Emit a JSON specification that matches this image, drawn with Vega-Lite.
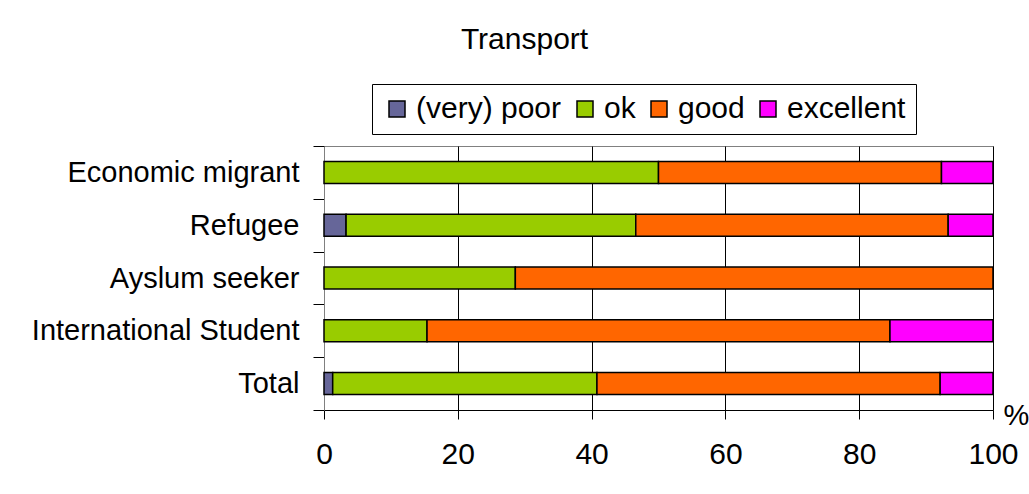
{
  "$schema": "https://vega.github.io/schema/vega-lite/v6.json",
  "autosize": {"type": "none"},
  "width": 669,
  "height": 264,
  "padding": {"left": 324, "top": 146, "right": 36, "bottom": 84},
  "background": "white",
  "title": {
    "text": "Transport",
    "anchor": "middle",
    "frame": "group",
    "dx": -134,
    "fontSize": 30,
    "fontWeight": "normal",
    "font": "Liberation Sans",
    "color": "#000000",
    "offset": 29
  },
  "data": {
    "values": [
      {"group": "Economic migrant", "rating": "ok", "rank": 2, "pct": 50.0},
      {"group": "Economic migrant", "rating": "good", "rank": 3, "pct": 42.3},
      {"group": "Economic migrant", "rating": "excellent", "rank": 4, "pct": 7.7},
      {"group": "Refugee", "rating": "(very) poor", "rank": 1, "pct": 3.3},
      {"group": "Refugee", "rating": "ok", "rank": 2, "pct": 43.3},
      {"group": "Refugee", "rating": "good", "rank": 3, "pct": 46.7},
      {"group": "Refugee", "rating": "excellent", "rank": 4, "pct": 6.7},
      {"group": "Ayslum seeker", "rating": "ok", "rank": 2, "pct": 28.6},
      {"group": "Ayslum seeker", "rating": "good", "rank": 3, "pct": 71.4},
      {"group": "International Student", "rating": "ok", "rank": 2, "pct": 15.4},
      {"group": "International Student", "rating": "good", "rank": 3, "pct": 69.2},
      {"group": "International Student", "rating": "excellent", "rank": 4, "pct": 15.4},
      {"group": "Total", "rating": "(very) poor", "rank": 1, "pct": 1.3},
      {"group": "Total", "rating": "ok", "rank": 2, "pct": 39.5},
      {"group": "Total", "rating": "good", "rank": 3, "pct": 51.3},
      {"group": "Total", "rating": "excellent", "rank": 4, "pct": 7.9}
    ]
  },
  "mark": {"type": "bar", "size": 22, "stroke": "#000000", "strokeWidth": 1.5, "opacity": 1},
  "encoding": {
    "y": {
      "field": "group",
      "type": "nominal",
      "sort": ["Economic migrant", "Refugee", "Ayslum seeker", "International Student", "Total"],
      "scale": {"paddingInner": 0, "paddingOuter": 0},
      "axis": {
        "title": null,
        "tickBand": "extent",
        "tickSize": 11,
        "tickColor": "#000000",
        "domainColor": "#808080",
        "labelPadding": 14,
        "labelFontSize": 29,
        "labelFont": "Liberation Sans",
        "labelColor": "#000000",
        "labelLimit": 400,
        "grid": false
      }
    },
    "x": {
      "field": "pct",
      "type": "quantitative",
      "stack": "zero",
      "scale": {"domain": [0, 100], "nice": false},
      "axis": {
        "values": [0, 20, 40, 60, 80, 100],
        "title": "%",
        "titleX": 692,
        "titleY": 5,
        "titleAlign": "center",
        "titleBaseline": "middle",
        "titleFontSize": 29,
        "titleFont": "Liberation Sans",
        "titleFontWeight": "normal",
        "titleColor": "#000000",
        "tickSize": 9,
        "tickColor": "#000000",
        "domainColor": "#000000",
        "labelPadding": 20,
        "labelFontSize": 30,
        "labelFont": "Liberation Sans",
        "labelColor": "#000000",
        "labelFlush": false,
        "grid": true,
        "gridColor": "#000000",
        "gridOpacity": 1,
        "gridWidth": 1
      }
    },
    "color": {
      "field": "rating",
      "type": "nominal",
      "scale": {
        "domain": ["(very) poor", "ok", "good", "excellent"],
        "range": ["#666699", "#99CC00", "#FF6600", "#FF00FF"]
      },
      "legend": {
        "title": null,
        "orient": "none",
        "legendX": 48,
        "legendY": -62,
        "direction": "horizontal",
        "strokeColor": "#000000",
        "fillColor": "#ffffff",
        "padding": 10,
        "symbolType": "square",
        "symbolSize": 256,
        "symbolStrokeColor": "#000000",
        "symbolStrokeWidth": 1.5,
        "symbolOpacity": 1,
        "labelFontSize": 30,
        "labelFont": "Liberation Sans",
        "labelColor": "#000000",
        "labelOffset": 4,
        "columnPadding": 8,
        "labelLimit": 400
      }
    },
    "order": {"field": "rank", "type": "quantitative"}
  },
  "config": {
    "view": {"stroke": "#808080", "strokeWidth": 1},
    "axis": {"domainWidth": 1, "tickWidth": 1}
  }
}
